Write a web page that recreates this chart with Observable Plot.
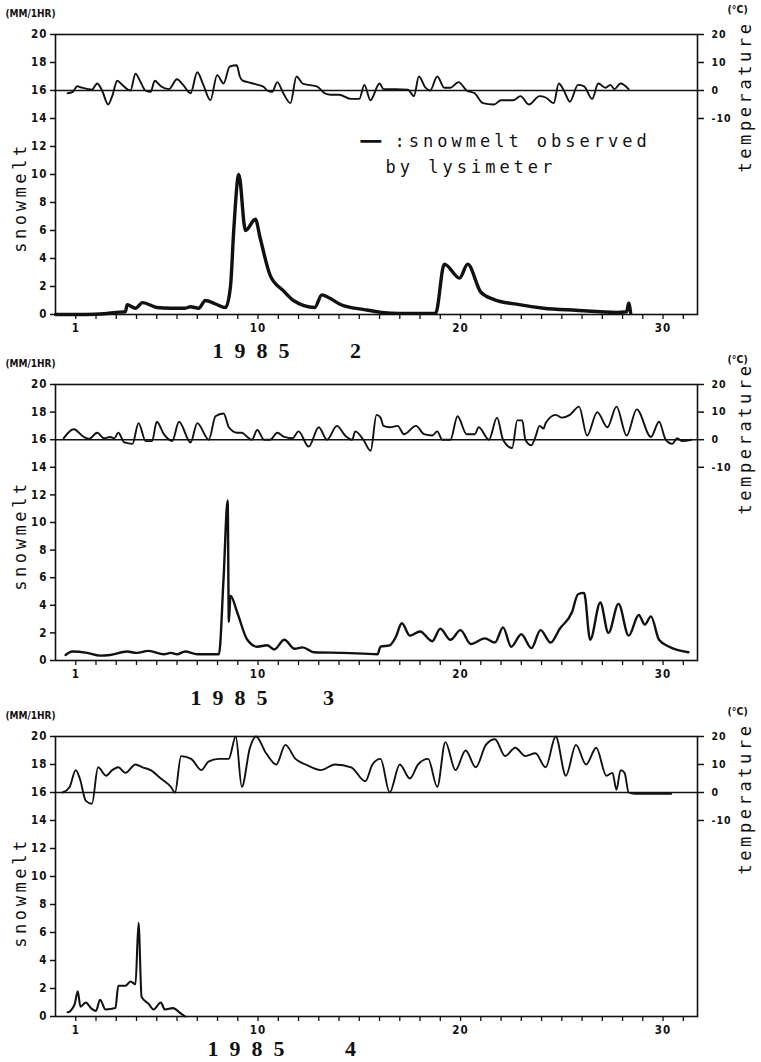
<!DOCTYPE html>
<html><head><meta charset="utf-8">
<script src="https://cdn.jsdelivr.net/npm/d3@7"></script>
<script src="https://cdn.jsdelivr.net/npm/@observablehq/plot@0.6"></script>
<style>
html,body{margin:0;padding:0;background:#fff;}
#chart{width:761px;}
#chart svg{display:block;}
</style></head><body><div id="chart"></div>
<script>
// ---- tick values ----
const leftTicks = [0,2,4,6,8,10,12,14,16,18,20];
const tempTicks = [-10,0,10,20];           // degrees C on right axis
const dayTicks = d3.range(1,32);
const dayLabels = [1,10,20,30];

// ---- February 1985 ----  [day, value]
const febTemp = [[0.6,-1],[0.85,-0.5],[1.07,1.5],[1.3,1],[1.6,0.5],[1.8,0.3],[2.06,2.5],[2.3,0],[2.6,-5],[2.8,-2],[3.05,3.5],[3.3,2],[3.7,0],[3.95,6],[4.2,3],[4.44,0],[4.7,-0.5],[4.9,3.5],[5.2,1.5],[5.6,0.5],[6.0,4],[6.3,2],[6.67,-1],[7.0,6.5],[7.3,2],[7.65,-3.5],[7.98,5.5],[8.3,2.5],[8.6,8.5],[8.95,9],[9.1,5],[9.25,3.5],[9.5,3],[10.0,2],[10.3,1.2],[10.45,0],[10.7,-0.5],[10.95,3],[11.25,-1],[11.6,-4.5],[11.9,5],[12.2,2.5],[12.5,2],[12.9,1.5],[13.3,-1],[13.6,-1.5],[14.0,-1.5],[14.6,-3],[15.0,-3],[15.25,2],[15.55,-3.5],[16.0,2.5],[16.2,0.5],[16.8,0.5],[17.4,0.3],[17.7,-2],[17.94,5],[18.27,1],[18.5,0],[18.85,5],[19.2,1],[19.5,1],[19.9,3],[20.3,0],[20.7,-1],[21.1,-4.5],[21.65,-5],[22.0,-3.5],[22.6,-3.5],[22.96,-2],[23.37,-5],[23.9,-2],[24.2,-2.5],[24.6,-4.5],[24.85,2.5],[25.1,0],[25.4,-4],[25.8,2],[26.1,1.5],[26.5,-3],[26.8,2.5],[27.16,1],[27.4,2],[27.6,0.5],[27.9,2.5],[28.3,0.5]];
const febMelt = [[0,0],[1.5,0],[2.4,0.05],[3.0,0.15],[3.45,0.2],[3.54,0.7],[3.95,0.45],[4.3,0.85],[5.0,0.5],[5.7,0.45],[6.4,0.45],[6.66,0.55],[7.07,0.45],[7.4,1.0],[7.9,0.75],[8.4,0.5],[8.64,2.0],[8.8,6.0],[9.05,10],[9.38,6.0],[9.87,6.8],[10.1,5.5],[10.6,2.8],[11.25,1.7],[11.75,1.0],[12.8,0.5],[13.15,1.4],[13.5,1.2],[14.1,0.7],[15.25,0.35],[16.1,0.15],[17.0,0.08],[18.77,0.1],[19.2,3.6],[19.95,2.6],[20.35,3.6],[21.0,1.6],[21.6,1.1],[22.9,0.7],[24.1,0.45],[25.7,0.3],[27.7,0.15],[28.2,0.2],[28.3,0.8],[28.4,0.1]];

// ---- March 1985 ----
const marTemp = [[0.4,0.5],[0.9,3.8],[1.4,1],[1.65,0.3],[2.06,2.5],[2.4,0.5],[2.7,1],[2.9,0.5],[3.1,2.5],[3.4,-1],[3.8,-1.5],[4.1,6],[4.45,-0.5],[4.77,-0.5],[5.0,6.5],[5.35,2],[5.76,-0.5],[6.1,6.5],[6.67,-1],[7.0,6],[7.57,0],[7.9,8.5],[8.3,9.5],[8.56,4.5],[8.97,2.5],[9.2,2.5],[9.47,1],[9.7,0],[9.96,3.5],[10.3,0],[10.6,0],[10.95,2.5],[11.3,1],[11.7,0.5],[12.0,3],[12.5,-2.5],[13.0,4.5],[13.4,0],[13.9,5],[14.3,1.5],[14.65,0],[14.8,3],[15.2,0],[15.56,-4],[15.85,9],[16.05,8],[16.2,5],[16.5,4.5],[16.9,5],[17.2,2],[17.8,5],[18.2,2],[18.6,1.5],[18.85,3],[19.1,0],[19.5,0],[19.85,8.5],[20.3,2],[20.7,2],[20.9,4.5],[21.4,0],[21.8,8],[22.1,0],[22.55,-3],[22.8,7],[23.05,7],[23.2,0],[23.5,-2],[23.7,1],[23.9,5],[24.1,4],[24.2,6],[24.7,9],[25.0,8],[25.4,9],[25.85,12],[26.25,1.5],[26.75,10],[27.25,4.5],[27.7,12],[28.2,1.5],[28.7,11],[29.4,1],[29.8,6.5],[30.13,0],[30.45,-1.5],[30.7,0.5],[30.95,-0.5],[31.4,0]];
const marMelt = [[0.5,0.4],[0.83,0.65],[1.56,0.55],[2.2,0.35],[2.7,0.4],[3.54,0.65],[4.0,0.55],[4.6,0.7],[5.35,0.45],[5.7,0.55],[6.0,0.45],[6.4,0.65],[7.0,0.45],[8.07,0.45],[8.3,6.0],[8.5,11.6],[8.56,2.8],[8.64,4.7],[8.97,3.5],[9.47,1.5],[9.96,1.0],[10.45,1.1],[10.8,0.8],[11.3,1.5],[11.8,0.85],[12.2,0.95],[12.76,0.6],[14.2,0.55],[15.2,0.5],[15.9,0.45],[16.05,1.0],[16.5,1.1],[16.8,1.7],[17.1,2.7],[17.5,1.8],[18.0,2.1],[18.6,1.4],[19.0,2.3],[19.5,1.5],[20.0,2.2],[20.5,1.2],[21.2,1.6],[21.7,1.3],[22.1,2.4],[22.5,1.0],[23.0,1.9],[23.5,0.9],[23.95,2.2],[24.45,1.3],[24.9,2.3],[25.5,3.5],[25.8,4.8],[26.1,4.9],[26.4,1.5],[26.9,4.2],[27.3,2.0],[27.8,4.1],[28.3,1.8],[28.8,3.3],[29.1,2.6],[29.4,3.2],[29.8,1.5],[30.3,1.0],[31.25,0.6]];

// ---- April 1985 ----
const aprTemp = [[0.35,0],[0.7,2],[1.0,8],[1.2,5],[1.5,-3],[1.8,-4],[2.1,9],[2.5,6],[2.8,8],[3.1,9],[3.45,7],[3.95,10],[4.3,9],[4.7,8],[5.2,5],[5.7,2],[5.9,0],[6.2,13],[6.7,12],[7.2,8],[7.55,11],[8.05,12],[8.55,12],[8.9,20],[9.2,2],[9.6,16],[9.9,20],[10.4,14],[10.9,10],[11.35,17],[11.85,12],[12.35,10],[13.1,8],[13.8,10],[14.6,9],[15.3,4],[15.65,10],[16.05,12],[16.5,0],[17.0,10],[17.5,5],[17.9,10],[18.4,12],[18.85,2],[19.25,18],[19.75,8],[20.25,15],[20.75,9],[21.25,17],[21.7,19],[22.2,13],[22.7,16],[23.2,13],[23.7,14],[24.2,9],[24.7,20],[25.2,6],[25.7,17],[26.2,10],[26.7,16],[27.2,6],[27.5,7],[27.7,1],[27.9,8],[28.1,7],[28.3,0],[28.6,-0.5],[30.4,-0.5]];
const aprMelt = [[0.6,0.3],[0.74,0.4],[0.95,0.9],[1.1,1.8],[1.23,0.7],[1.5,1.0],[1.75,0.6],[2.0,0.4],[2.2,1.2],[2.47,0.5],[2.96,0.6],[3.1,2.2],[3.46,2.2],[3.7,2.5],[3.95,2.3],[4.1,6.7],[4.25,1.4],[4.6,0.9],[4.84,0.5],[5.2,1.0],[5.4,0.5],[5.8,0.6],[6.2,0.2],[6.4,0]];

const panels = [
  {month:"2", temp:febTemp, melt:febMelt, height:360, mt:34, mb:46, meltW:3.4, legend:true, snowDy:163, tempDy:62, yearDx:157, monthDx:300, yearDy:36},
  {month:"3", temp:marTemp, melt:marMelt, height:352, mt:24, mb:52, meltW:2.4, legend:false, snowDy:151, tempDy:54, yearDx:135, monthDx:273, yearDy:37},
  {month:"4", temp:aprTemp, melt:aprMelt, height:350, mt:24, mb:46, meltW:2.1, legend:false, snowDy:156, tempDy:62, yearDx:152, monthDx:295, yearDy:32}
];

const toLeft = t => 16 + t / 5;   // temperature (°C) onto the left scale: 0°C at 16, 20°C at 20

// letter spacing for the typewriter-style labels (applied after render)
const spacing = {":snowmelt observed":"4px", "by lysimeter":"4px", "snowmelt":"3.6px", "temperature":"3.6px", "1985":"11px"};

function panel(p){
  const mono = "DejaVu Sans Mono, monospace";
  const serif = "Liberation Serif, serif";
  const marks = [
    Plot.frame({stroke:"#111", strokeWidth:1.6}),
    Plot.ruleY([16], {stroke:"#111", strokeWidth:1.6}),
    Plot.axisY({anchor:"left", ticks:leftTicks, tickSize:5, tickPadding:3, label:null, fontSize:11.5, strokeWidth:1.5}),
    Plot.axisY({anchor:"right", ticks:tempTicks.map(toLeft), tickFormat:v => String(Math.round((v-16)*5)), tickSize:6, tickPadding:8, label:null, fontSize:10.5, strokeWidth:1.5}),
    Plot.axisX({ticks:dayTicks, tickFormat:() => "", tickSize:5, label:null, strokeWidth:1.3}),
    Plot.axisX({ticks:dayLabels, tickSize:0, tickPadding:9, label:null, fontSize:11.5}),
    Plot.line(p.temp, {x:d => d[0], y:d => toLeft(d[1]), curve:"monotone-x", stroke:"#111", strokeWidth:1.9}),
    Plot.line(p.melt, {x:d => d[0], y:d => d[1], curve:"monotone-x", stroke:"#111", strokeWidth:p.meltW}),
    Plot.text(["(MM/1HR)"], {frameAnchor:"top-left", dx:-50, dy:-21, textAnchor:"start", lineAnchor:"middle", fontSize:10, fontWeight:"bold"}),
    Plot.text(["(°C)"], {frameAnchor:"top-left", dx:672, dy:-25, textAnchor:"start", lineAnchor:"middle", fontSize:10.5, fontWeight:"bold"}),
    Plot.text(["snowmelt"], {frameAnchor:"top-left", dx:-35, dy:p.snowDy, rotate:-90, textAnchor:"middle", lineAnchor:"middle", fontFamily:mono, fontSize:17}),
    Plot.text(["temperature"], {frameAnchor:"top-left", dx:690, dy:p.tempDy, rotate:-90, textAnchor:"middle", lineAnchor:"middle", fontFamily:mono, fontSize:17}),
    Plot.text(["1985"], {frameAnchor:"bottom-left", dx:p.yearDx, dy:p.yearDy, textAnchor:"start", lineAnchor:"middle", fontFamily:serif, fontSize:22, fontWeight:"bold"}),
    Plot.text([p.month], {frameAnchor:"bottom-left", dx:p.monthDx, dy:p.yearDy, textAnchor:"middle", lineAnchor:"middle", fontFamily:serif, fontSize:22, fontWeight:"bold"})
  ];
  if (p.legend) {
    marks.push(
      Plot.text(["━━"], {frameAnchor:"top-left", dx:305, dy:107, textAnchor:"start", lineAnchor:"middle", fontFamily:mono, fontSize:17}),
      Plot.text([":snowmelt observed"], {frameAnchor:"top-left", dx:339, dy:107, textAnchor:"start", lineAnchor:"middle", fontFamily:mono, fontSize:17}),
      Plot.text(["by lysimeter"], {frameAnchor:"top-left", dx:330, dy:133, textAnchor:"start", lineAnchor:"middle", fontFamily:mono, fontSize:17})
    );
  }
  const svg = Plot.plot({
    width:761, height:p.height,
    marginLeft:55, marginRight:64, marginTop:p.mt, marginBottom:p.mb,
    x:{domain:[0,31.7], axis:null},
    y:{domain:[0,20], axis:null},
    style:{background:"#fff", color:"#111", fontFamily:"DejaVu Sans Condensed, DejaVu Sans, sans-serif", overflow:"visible"},
    marks
  });
  svg.querySelectorAll("text").forEach(t => {
    const s = t.textContent;
    if (spacing[s]) t.style.letterSpacing = spacing[s];
  });
  svg.querySelectorAll('[aria-label$="tick label"] text').forEach(t => {
    t.style.fontWeight = "bold";
    t.style.letterSpacing = "1px";
  });
  return svg;
}

const root = document.getElementById("chart");
for (const p of panels) root.appendChild(panel(p));
</script>
</body></html>
